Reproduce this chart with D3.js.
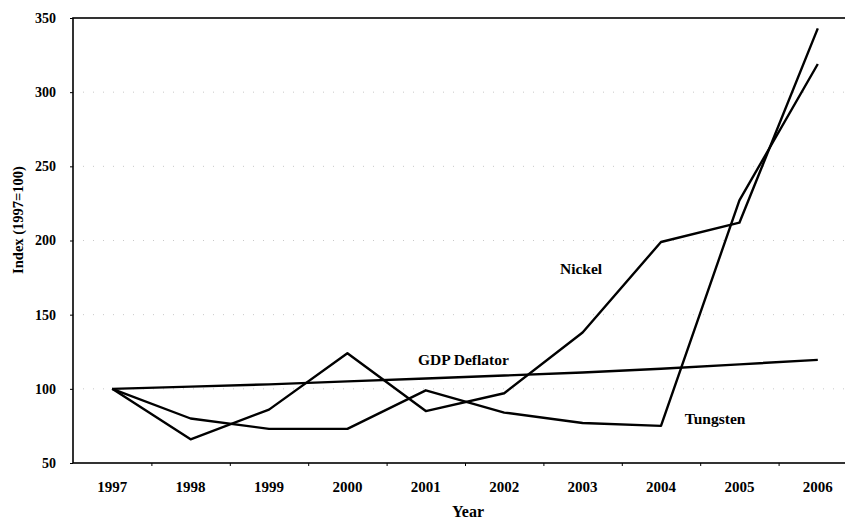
<!DOCTYPE html>
<html lang="en">
  <head>
    <meta charset="utf-8">
    <title>Nickel, Tungsten and GDP Deflator Index</title>
    <script src="https://d3js.org/d3.v7.min.js"></script>
    <style>
      body { margin: 0; background: #fff; }
      svg { display: block; }
      text { font-family: "Liberation Serif", "Times New Roman", serif; font-weight: bold; fill: #000; }
    </style>
  </head>
  <body>
    <svg width="845" height="523"></svg>
    <script>

    // data (1997 = 100)
    var years = [1997, 1998, 1999, 2000, 2001, 2002, 2003, 2004, 2005, 2006];
    var nickel = [100, 66, 86, 124, 85, 97, 138, 199, 212, 343];
    var tungsten = [100, 80, 73, 73, 99, 84, 77, 75, 227, 319];
    var deflator = [100, 101.5, 103, 105, 107, 109, 111, 113.5, 116.5, 119.5];
    var yTicks = [50, 100, 150, 200, 250, 300, 350];

    var seriesNames = ["Nickel", "Tungsten", "GDP Deflator"];
    var seriesValues = [nickel, tungsten, deflator];
    // label anchor: [year, value] where the text sits
    var labelAt = [[2002.98, 177.5], [2004.69, 76.5], [2001.48, 116]];

    var svg = d3.select("svg"),
        width = +svg.attr("width"),
        height = +svg.attr("height");

    var margin = {top: 18, left: 73, bottom: 60};

    var x = d3.scaleLinear()
        .domain([1996.5, 2006.5])
        .range([margin.left, margin.left + 784]);

    var y = d3.scaleLinear()
        .domain([50, 350])
        .range([height - margin.bottom, margin.top]);

    // faint dotted gridlines
    svg.append("g")
        .selectAll("line")
        .data(yTicks.slice(1, -1))
        .enter().append("line")
          .attr("x1", margin.left)
          .attr("x2", width)
          .attr("y1", function(d) { return y(d); })
          .attr("y2", function(d) { return y(d); })
          .attr("stroke", "#c8c8c8")
          .attr("stroke-width", 1)
          .attr("stroke-dasharray", "1,9");

    // frame (right side runs off the picture)
    svg.append("rect")
        .attr("x", x.range()[0])
        .attr("y", y.range()[1])
        .attr("width", x.range()[1] - x.range()[0])
        .attr("height", y.range()[0] - y.range()[1])
        .attr("fill", "none")
        .attr("stroke", "#000")
        .attr("stroke-width", 1.6);

    var yAxis = svg.append("g")
        .attr("transform", "translate(" + margin.left + ",0)")
        .call(d3.axisLeft(y).tickValues(yTicks).tickSize(3).tickPadding(14));
    yAxis.select(".domain").remove();
    yAxis.selectAll("text").attr("font-size", 14).style("font-family", null);

    // x ticks sit on the boundaries between years, labels under each year
    var xAxis = svg.append("g")
        .attr("transform", "translate(0," + y.range()[0] + ")")
        .call(d3.axisBottom(x)
          .tickValues(years.map(function(d) { return d + 0.5; }))
          .tickSize(3)
          .tickFormat(""));
    xAxis.select(".domain").remove();

    svg.append("g")
        .selectAll("text")
        .data(years)
        .enter().append("text")
          .attr("x", function(d) { return x(d); })
          .attr("y", y.range()[0] + 29)
          .attr("text-anchor", "middle")
          .attr("font-size", 15)
          .text(function(d) { return d; });

    var line = d3.line()
        .x(function(d, i) { return x(years[i]); })
        .y(function(d) { return y(d); });

    svg.append("g")
        .selectAll("path")
        .data(seriesValues)
        .enter().append("path")
          .attr("d", line)
          .attr("fill", "none")
          .attr("stroke", "#000")
          .attr("stroke-width", 2.4)
          .attr("stroke-linejoin", "round");

    svg.append("g")
        .selectAll("text")
        .data(seriesNames)
        .enter().append("text")
          .attr("x", function(d, i) { return x(labelAt[i][0]); })
          .attr("y", function(d, i) { return y(labelAt[i][1]); })
          .attr("text-anchor", "middle")
          .attr("font-size", 15.5)
          .text(function(d) { return d; });

    svg.append("text")
        .attr("x", 468)
        .attr("y", 517)
        .attr("text-anchor", "middle")
        .attr("font-size", 16)
        .text("Year");

    svg.append("text")
        .attr("transform", "translate(23,220) rotate(-90)")
        .attr("text-anchor", "middle")
        .attr("font-size", 14.5)
        .text("Index (1997=100)");

    </script>
  </body>
</html>
